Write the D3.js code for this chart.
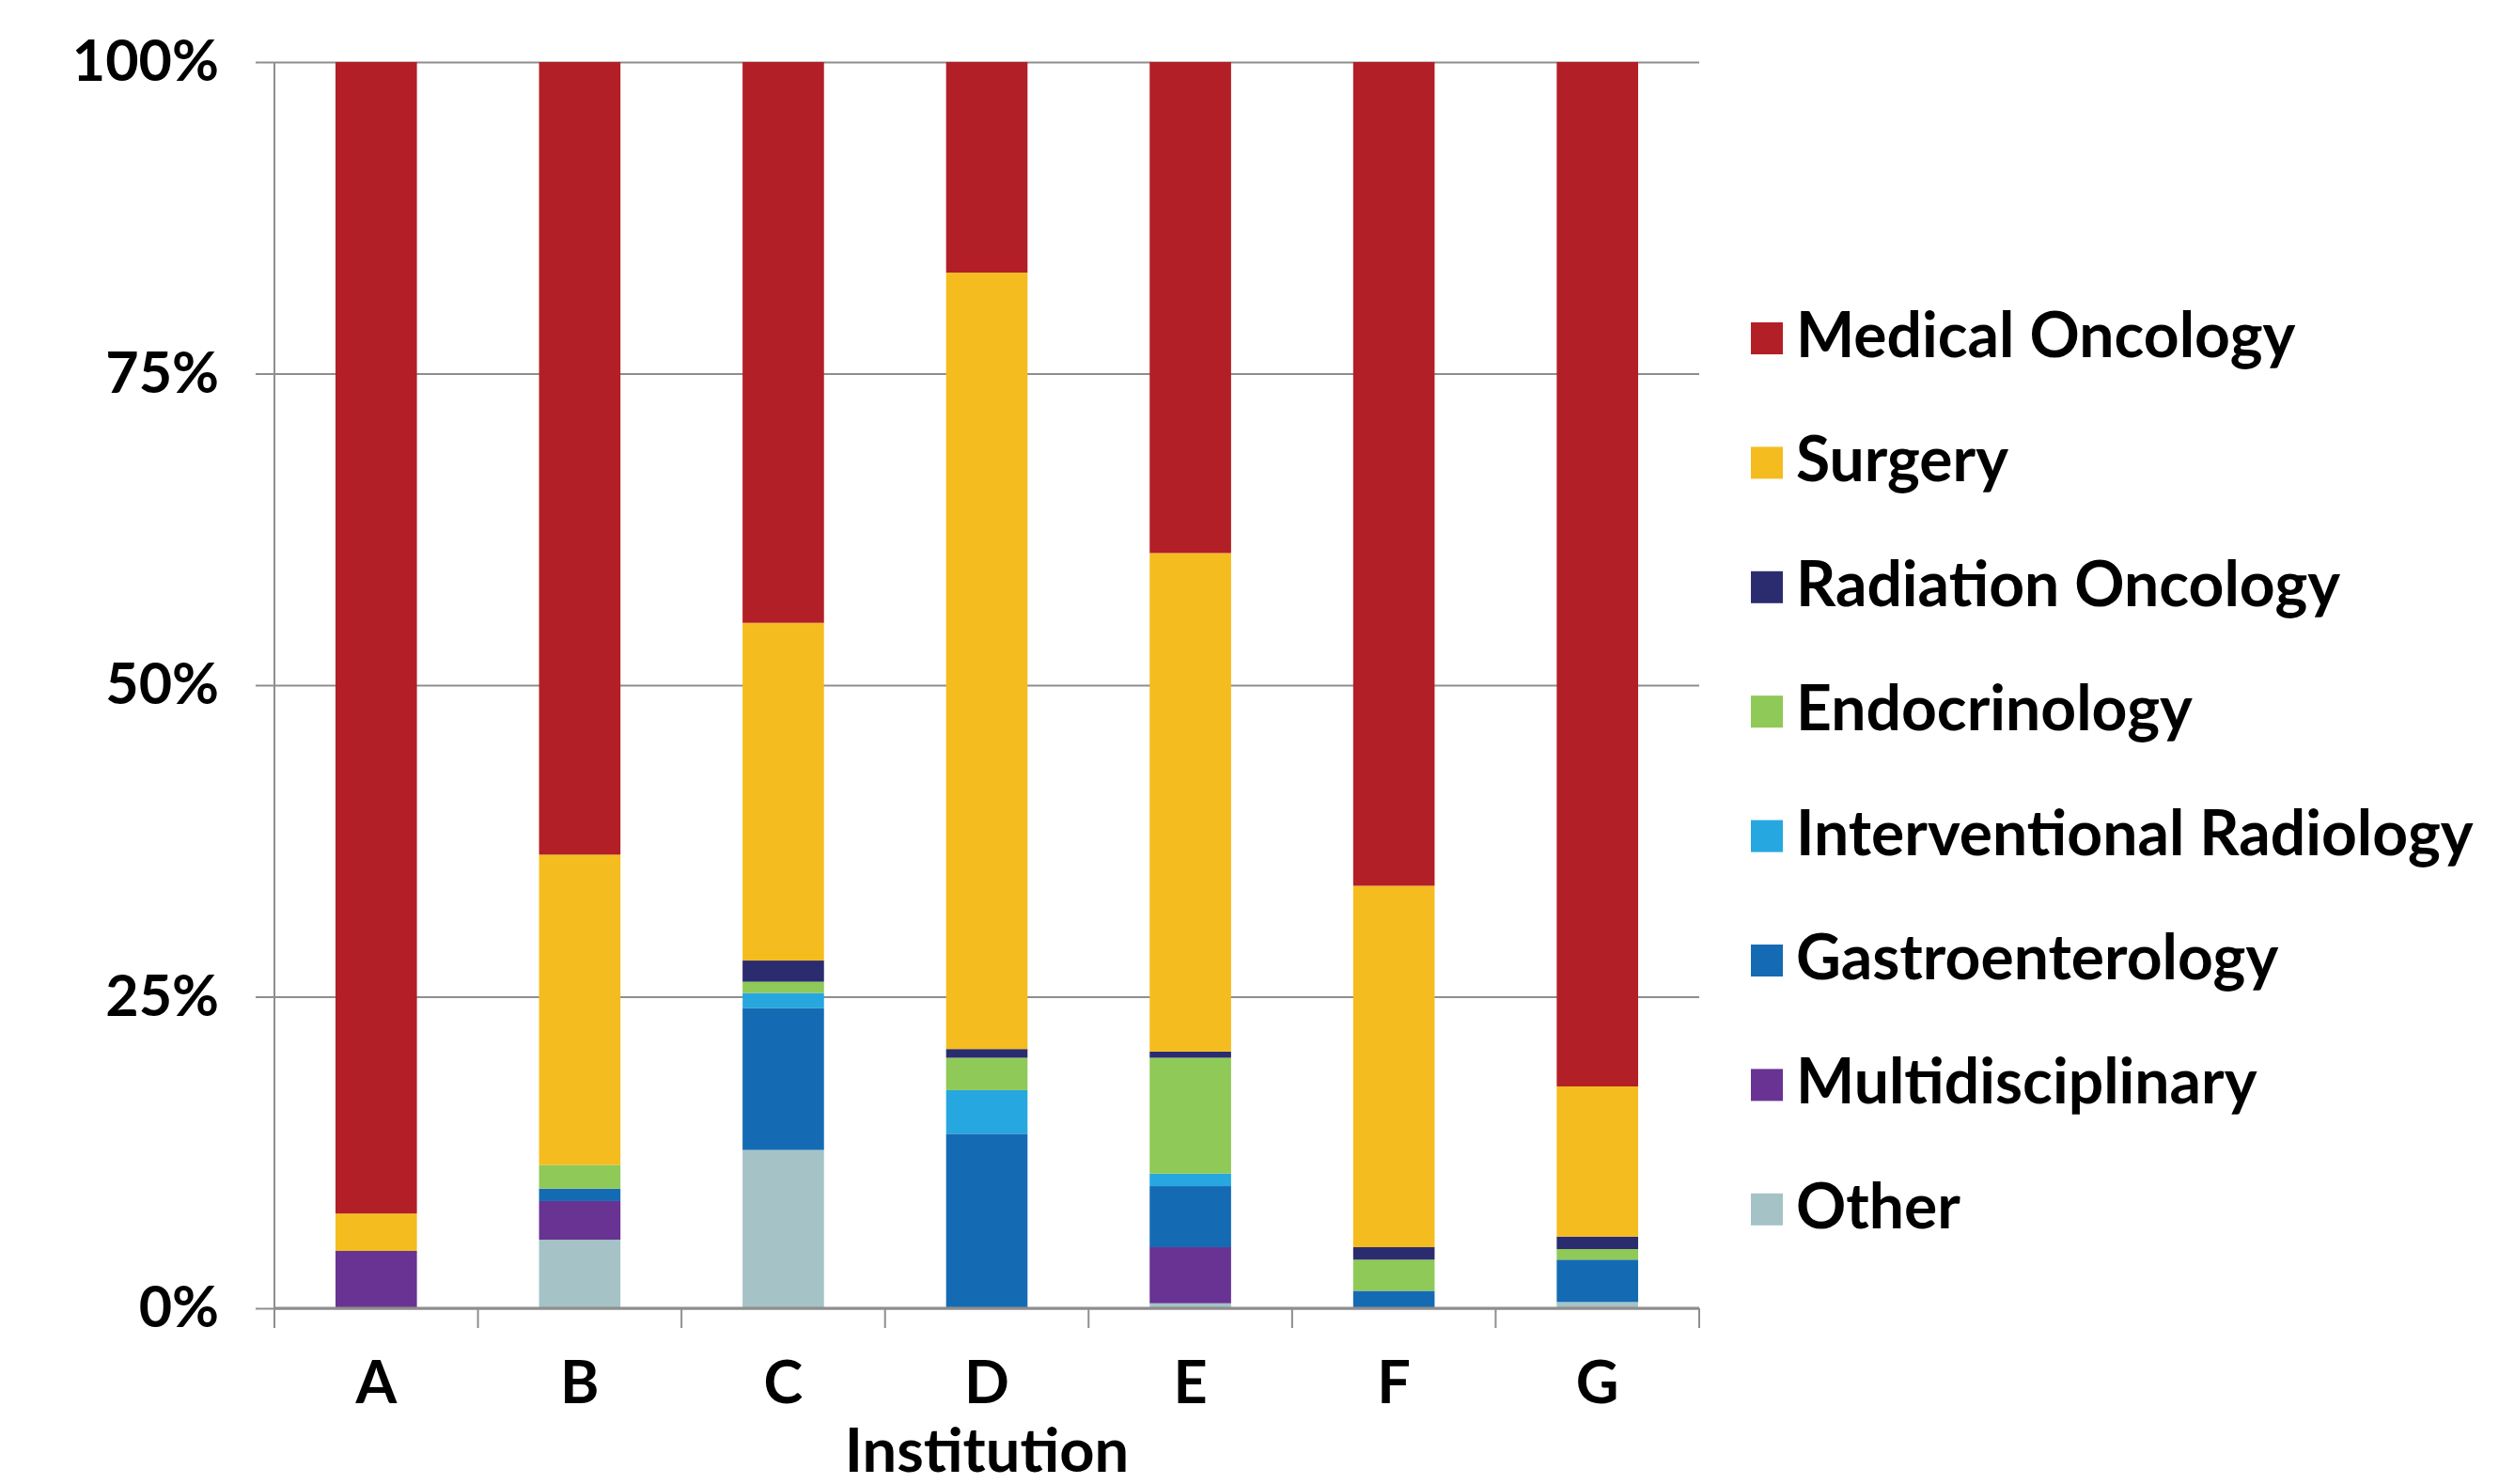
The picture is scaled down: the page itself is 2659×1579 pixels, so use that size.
<!DOCTYPE html>
<html>
<head>
<meta charset="utf-8">
<script src="https://cdn.jsdelivr.net/npm/d3@7"></script>
<style>
  body { margin: 0; background: #fff; }
  text { font-family: Lato, "Open Sans", sans-serif; font-weight: 700; fill: #000; }
</style>
</head>
<body>
<div id="chart"></div>
<script>
  // institutions on the x axis
  var institutions = ["A", "B", "C", "D", "E", "F", "G"];

  // specialties, stacked bottom to top
  var specialties = ["Other", "Multidisciplinary", "Gastroenterology", "Interventional Radiology",
                     "Endocrinology", "Radiation Oncology", "Surgery", "Medical Oncology"];

  // percent of each institution
  var other        = [0,    5.5, 12.7, 0,    0.4, 0,    0.5];
  var multidisc    = [4.6,  3.1, 0,    0,    4.5, 0,    0];
  var gastro       = [0,    1.0, 11.4, 14.0, 4.9, 1.4,  3.4];
  var intervRad    = [0,    0,   1.2,  3.5,  1.0, 0,    0];
  var endocrine    = [0,    1.9, 0.9,  2.6,  9.3, 2.5,  0.85];
  var radOnc       = [0,    0,   1.7,  0.7,  0.5, 1.0,  1.0];
  var surgery      = [3.0, 24.9, 27.1, 62.3, 40.0, 29.0, 12.05];
  var medOnc       = [92.4, 63.6, 45.0, 16.9, 39.4, 66.1, 82.2];

  var yTicks = [0, 25, 50, 75, 100];

  var colors = ["#A5C3C6", "#683392", "#156BB3", "#27A7DF",
                "#8FC957", "#2B2C6F", "#F5BC1F", "#B31F26"];

  var series = [other, multidisc, gastro, intervRad, endocrine, radOnc, surgery, medOnc];
  var rows = institutions.map(function (inst, i) {
    var row = {inst: inst};
    specialties.forEach(function (s, j) { row[s] = series[j][i]; });
    return row;
  });

  var margin = {top: 66, right: 851, bottom: 187, left: 292},
      width = 2659 - margin.left - margin.right,
      height = 1579 - margin.top - margin.bottom;

  var svg = d3.select("#chart")
    .append("svg")
      .attr("width", 2659)
      .attr("height", 1579)
    .append("g")
      .attr("transform", "translate(" + margin.left + "," + margin.top + ")");

  var x = d3.scaleBand()
    .domain(institutions)
    .range([0, width])
    .paddingInner(0.6)
    .paddingOuter(0.3);

  var y = d3.scaleLinear()
    .domain([0, 100])
    .range([height, 0]);

  var color = d3.scaleOrdinal().domain(specialties).range(colors);

  // gridlines + y labels
  var yAxis = svg.append("g")
    .attr("transform", "translate(-20,0)")
    .call(d3.axisLeft(y)
      .tickValues(yTicks)
      .tickSize(-(width + 20))
      .tickPadding(39)
      .tickFormat(function (d) { return d + "%"; }));
  yAxis.select(".domain").remove();
  yAxis.selectAll(".tick line").attr("stroke", "#8E8E8E").attr("stroke-width", 2);
  yAxis.selectAll(".tick text").style("font-size", "61px").attr("fill", "#000");

  // vertical axis line
  svg.append("line")
    .attr("x1", 0).attr("x2", 0)
    .attr("y1", 0).attr("y2", height)
    .attr("stroke", "#8E8E8E").attr("stroke-width", 2);

  // stacked bars
  var stacked = d3.stack().keys(specialties)(rows);

  svg.append("g")
    .selectAll("g")
    .data(stacked)
    .enter()
    .append("g")
      .attr("fill", function (d) { return color(d.key); })
    .selectAll("rect")
    .data(function (d) { return d; })
    .enter()
    .append("rect")
      .attr("x", function (d) { return x(d.data.inst); })
      .attr("y", function (d) { return y(d[1]); })
      .attr("height", function (d) { return y(d[0]) - y(d[1]); })
      .attr("width", x.bandwidth());

  // x axis with ticks between categories
  var step = x.step();
  var xAxis = svg.append("g")
    .attr("transform", "translate(0," + height + ")");
  xAxis.append("line")
    .attr("x1", 0).attr("x2", width)
    .attr("stroke", "#8E8E8E").attr("stroke-width", 3);
  xAxis.selectAll(".sep")
    .data(d3.range(institutions.length + 1))
    .enter()
    .append("line")
      .attr("class", "sep")
      .attr("x1", function (i) { return i * step; })
      .attr("x2", function (i) { return i * step; })
      .attr("y1", 0).attr("y2", 21)
      .attr("stroke", "#8E8E8E").attr("stroke-width", 2);
  xAxis.selectAll(".lab")
    .data(institutions)
    .enter()
    .append("text")
      .attr("class", "lab")
      .attr("x", function (d) { return x(d) + x.bandwidth() / 2; })
      .attr("y", 101)
      .attr("text-anchor", "middle")
      .style("font-size", "63px")
      .text(function (d) { return d; });

  svg.append("text")
    .attr("x", width / 2)
    .attr("y", height + 174)
    .attr("text-anchor", "middle")
    .style("font-size", "65px")
    .text("Institution");

  // legend, top item is Medical Oncology
  var legend = svg.append("g")
    .attr("transform", "translate(" + (1863 - margin.left) + "," + (343 - margin.top) + ")");

  var items = legend.selectAll("g")
    .data(specialties.slice().reverse())
    .enter()
    .append("g")
      .attr("transform", function (d, i) { return "translate(0," + (i * 132.4) + ")"; });

  items.append("rect")
    .attr("width", 34).attr("height", 34)
    .attr("fill", function (d) { return color(d); });

  items.append("text")
    .attr("x", 48)
    .attr("y", 37)
    .style("font-size", "66px")
    .text(function (d) { return d; });
</script>
</body>
</html>
